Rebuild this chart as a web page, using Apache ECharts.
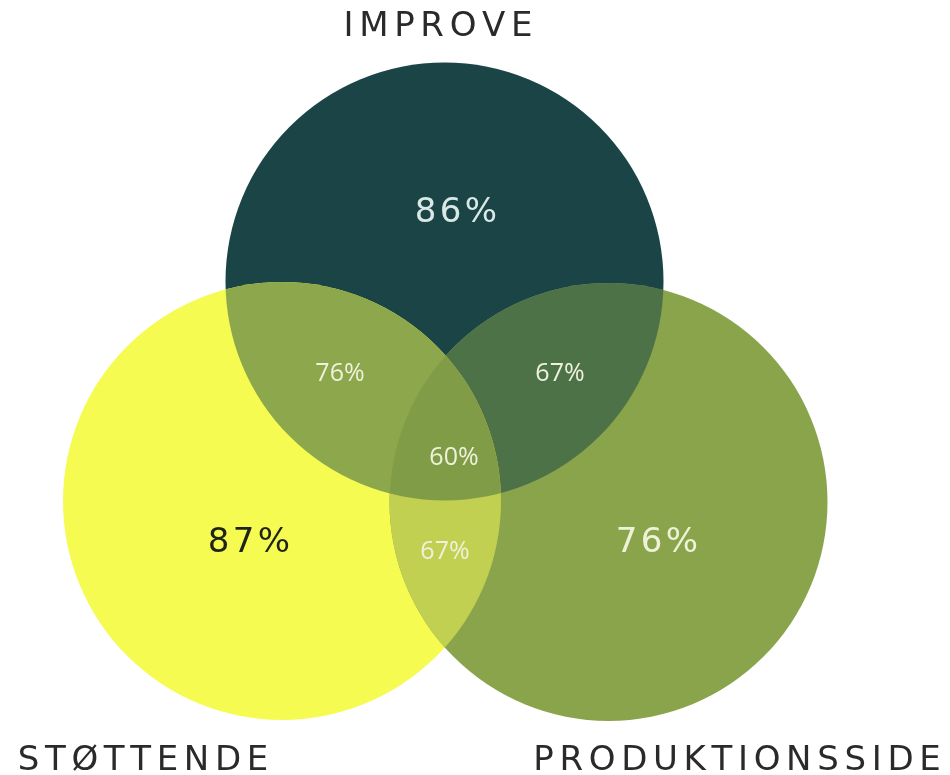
<!DOCTYPE html>
<html>
<head>
<meta charset="utf-8">
<script src="https://cdn.jsdelivr.net/npm/echarts/dist/echarts.min.js"></script>
<style>html,body{margin:0;padding:0;background:#fff}#c{width:950px;height:775px}</style>
</head>
<body>
<div id="c"></div>
<script>
// ---- data ----
const setNames = ['IMPROVE', 'STØTTENDE', 'PRODUKTIONSSIDE'];
const setValues = [86, 87, 76];
const overlapSets = [[0, 1], [0, 2], [1, 2], [0, 1, 2]];
const overlapValues = [76, 67, 67, 60];

// ---- layout (pixel-like units on hidden axes) ----
const layout = {
  cx: [444.5, 282, 608.5],
  cy: [281.5, 501, 502],
  r: 219,
  valuePos: [[456, 213], [249, 543], [657, 543]],
  namePos: [[438, 27], [143, 761], [737, 761]],
  overlapPos: [[340, 374], [560, 374], [445, 552], [454, 458]]
};
const setColors = ['#1a4446', '#f5fb51', '#8aa44c'];
const overlapColors = ['#8ca74c', '#4e7248', '#c2d052', '#809c47'];
const valueColors = ['#dbe9e6', '#1e2418', '#eef3d8'];
const SP = '\u2006';

function circleShape(api, i) {
  const c = api.coord([layout.cx[i], layout.cy[i]]);
  const r = api.size([layout.r, layout.r])[0];
  return { cx: c[0], cy: c[1], r: r };
}
function txt(api, pos, text, font, fill) {
  const p = api.coord(pos);
  return {
    type: 'text', x: p[0], y: p[1],
    style: { text: text, font: font, fill: fill, textAlign: 'center', textVerticalAlign: 'middle' }
  };
}

const chart = echarts.init(document.getElementById('c'), null, { renderer: 'canvas' });
chart.setOption({
  animation: false,
  backgroundColor: '#ffffff',
  grid: { left: 0, right: 0, top: 0, bottom: 0 },
  xAxis: { type: 'value', min: 0, max: 950, show: false },
  yAxis: { type: 'value', min: 0, max: 775, inverse: true, show: false },
  series: [
    {
      type: 'custom', name: 'sets', coordinateSystem: 'cartesian2d', z: 1,
      data: setValues.map((v, i) => [layout.cx[i], layout.cy[i], v, i]),
      renderItem: function (params, api) {
        const i = params.dataIndex;
        return { type: 'circle', shape: circleShape(api, i), style: { fill: setColors[i] } };
      }
    },
    {
      type: 'custom', name: 'overlaps', coordinateSystem: 'cartesian2d', z: 2,
      data: overlapValues.map((v, k) => [layout.overlapPos[k][0], layout.overlapPos[k][1], v, k]),
      renderItem: function (params, api) {
        const k = params.dataIndex;
        const s = overlapSets[k];
        const inner = {
          type: 'circle', shape: circleShape(api, s[0]), style: { fill: overlapColors[k] },
          clipPath: { type: 'circle', shape: circleShape(api, s[1]) }
        };
        if (s.length === 3) {
          return { type: 'group', children: [inner], clipPath: { type: 'circle', shape: circleShape(api, s[2]) } };
        }
        return inner;
      }
    },
    {
      type: 'custom', name: 'labels', coordinateSystem: 'cartesian2d', z: 3,
      data: [0],
      renderItem: function (params, api) {
        const children = [];
        setNames.forEach((n, i) => {
          children.push(txt(api, layout.namePos[i], n.split('').join(SP), '34px "DejaVu Sans"', '#2a2a2a'));
          children.push(txt(api, layout.valuePos[i], String(setValues[i]).split('').concat(['%']).join('\u200A'), '34px "DejaVu Sans"', valueColors[i]));
        });
        overlapValues.forEach((v, k) => {
          children.push(txt(api, layout.overlapPos[k], v + '%', '25px "Open Sans"', '#eef2dc'));
        });
        return { type: 'group', children: children };
      }
    }
  ]
});
</script>
</body>
</html>
